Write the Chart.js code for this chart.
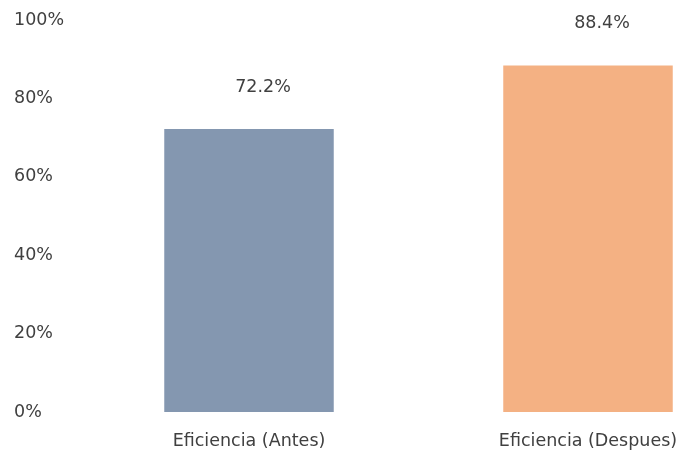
<!DOCTYPE html>
<html>
<head>
<meta charset="utf-8">
<script src="https://cdn.jsdelivr.net/npm/chart.js@4"></script>
<style>
html,body{margin:0;padding:0;background:#fff;overflow:hidden;}
#wrap{width:760px;height:457px;position:relative;}
</style>
</head>
<body>
<div id="wrap"><canvas id="c"></canvas></div>
<script>
const categories = ['Eficiencia (Antes)', 'Eficiencia (Despues)'];
const values = [72.2, 88.4];
const barColors = ['#8497B0', '#F4B183'];
const yTicks = [0, 20, 40, 60, 80, 100];

const FONT = '"DejaVu Sans", sans-serif';
const FSIZE = 17.5;
const TXT = '#404040';

const labelPlugin = {
  id: 'valueLabels',
  afterDatasetsDraw(chart) {
    const ctx = chart.ctx;
    const meta = chart.getDatasetMeta(0);
    ctx.save();
    ctx.font = FSIZE + 'px ' + FONT;
    ctx.fillStyle = TXT;
    ctx.textAlign = 'center';
    ctx.textBaseline = 'middle';
    meta.data.forEach((bar, i) => {
      ctx.fillText(values[i].toFixed(1) + '%', bar.x + 14, bar.y - 42);
    });
    ctx.restore();
  }
};

new Chart(document.getElementById('c'), {
  type: 'bar',
  data: {
    labels: categories,
    datasets: [{
      data: values,
      backgroundColor: barColors,
      categoryPercentage: 1,
      barPercentage: 0.5
    }]
  },
  options: {
    responsive: true,
    maintainAspectRatio: false,
    animation: false,
    layout: { padding: { left: 14, top: 20, right: 2.5, bottom: 0 } },
    plugins: { legend: { display: false }, tooltip: { enabled: false } },
    scales: {
      x: {
        grid: { display: false, drawTicks: false },
        border: { display: false },
        ticks: { color: TXT, font: { family: FONT, size: FSIZE }, padding: 19 },
        afterFit(s) { s.height = 45; }
      },
      y: {
        min: 0, max: 100,
        afterBuildTicks(s) { s.ticks = yTicks.map(v => ({ value: v })); },
        grid: { display: false, drawTicks: false },
        border: { display: false },
        ticks: {
          color: TXT, font: { family: FONT, size: FSIZE }, padding: 0,
          crossAlign: 'far',
          callback: v => v + '%'
        },
        afterFit(s) { s.width = 65.5; }
      }
    }
  },
  plugins: [labelPlugin]
});
</script>
</body>
</html>
